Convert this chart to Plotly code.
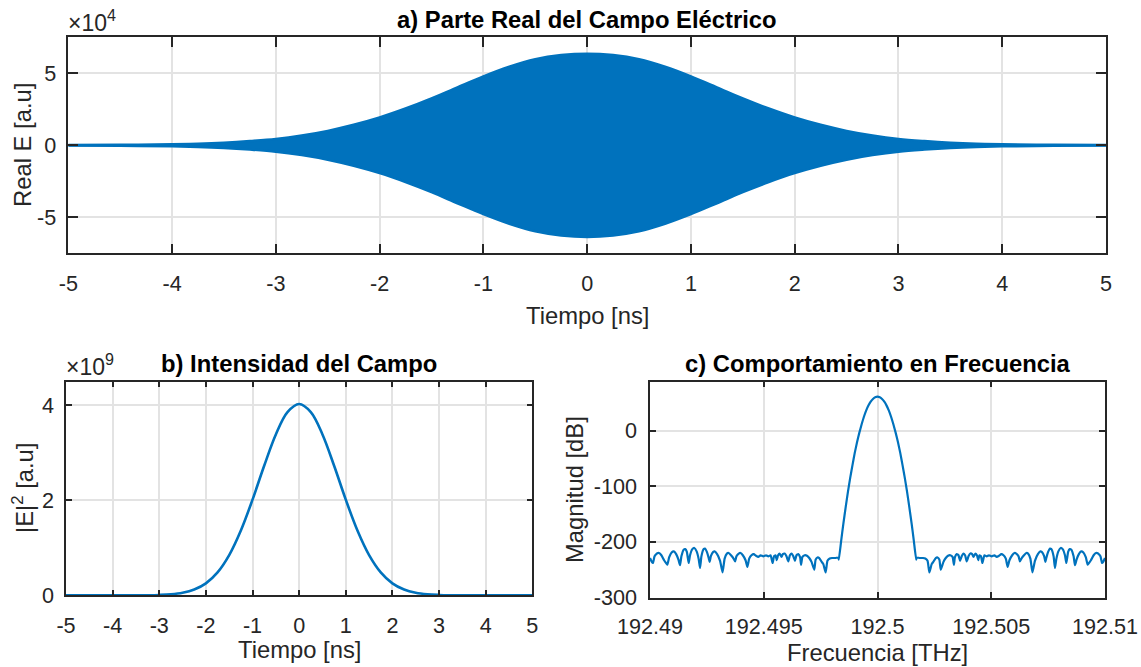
import plotly.graph_objects as go

# ---------------- data ----------------
# a) envelope of the real part of the field (x1e4 a.u.) vs time [ns]
t_env = [-5.0, -4.5, -4.0, -3.75, -3.5, -3.25, -3.0, -2.75, -2.5, -2.25, -2.0, -1.75, -1.5, -1.25, -1.0,
         -0.75, -0.5, -0.25, 0.0, 0.25, 0.5, 0.75, 1.0, 1.25, 1.5, 1.75, 2.0, 2.25, 2.5, 2.75, 3.0,
         3.25, 3.5, 3.75, 4.0, 4.5, 5.0]
env_e4 = [0.01, 0.03, 0.07, 0.11, 0.18, 0.29, 0.44, 0.68, 1.0, 1.42, 1.93, 2.55, 3.25, 4.02, 4.78,
          5.45, 5.97, 6.26, 6.36, 6.26, 5.97, 5.45, 4.78, 4.02, 3.25, 2.55, 1.93, 1.42, 1.0, 0.68, 0.44,
          0.29, 0.18, 0.11, 0.07, 0.03, 0.01]

# b) intensity |E|^2 (x1e9 a.u.) vs time [ns]
t_int = [-5.0, -4.5, -4.0, -3.5, -3.25, -3.0, -2.75, -2.5, -2.25, -2.0, -1.75, -1.5, -1.25, -1.0,
         -0.75, -0.5, -0.25, 0.0, 0.25, 0.5, 0.75, 1.0, 1.25, 1.5, 1.75, 2.0, 2.25, 2.5, 2.75, 3.0,
         3.25, 3.5, 4.0, 4.5, 5.0]
int_e9 = [0.0, 0.0, 0.0, 0.0008, 0.0026, 0.0079, 0.0213, 0.053, 0.121, 0.252, 0.483, 0.847, 1.365, 2.015,
          2.729, 3.389, 3.859, 4.03, 3.859, 3.389, 2.729, 2.015, 1.365, 0.847, 0.483, 0.252, 0.121, 0.053, 0.0213, 0.0079,
          0.0026, 0.0008, 0.0, 0.0, 0.0]

# c) spectrum magnitude [dB]; frequency as offset [GHz] from 192.49 THz
floor_left_off = [0.00, 0.08, 0.13, 0.20, 0.30, 0.40, 0.50, 0.62, 0.76, 0.84, 0.95, 1.05, 1.15, 1.25, 1.32, 1.38,
                  1.48, 1.55, 1.62, 1.70, 1.76, 1.86, 1.95, 2.05, 2.14, 2.20, 2.26, 2.36, 2.42, 2.50, 2.58, 2.62,
                  2.68, 2.78, 2.84, 2.95, 3.08, 3.19, 3.28, 3.38, 3.46, 3.56, 3.66, 3.74, 3.80, 3.90, 3.98, 4.08,
                  4.20, 4.28, 4.36, 4.46, 4.56, 4.66, 4.76, 4.86, 4.98, 5.10, 5.20, 5.30, 5.39, 5.45, 5.52, 5.57,
                  5.63, 5.70, 5.78, 5.84, 5.92, 6.00, 6.08, 6.15, 6.23, 6.30, 6.37, 6.44, 6.52, 6.60, 6.64, 6.70,
                  6.80, 6.90, 7.00, 7.10, 7.22, 7.28, 7.36, 7.44, 7.55, 7.62, 7.72, 7.80, 7.90, 8.00, 8.15, 8.28]
floor_left_db = [-229, -236, -238, -226, -221, -220, -224, -233, -241, -228, -219, -217, -222, -232, -242, -226,
                 -214, -213, -218, -238, -224, -213, -211, -217, -231, -247, -226, -213, -212, -218, -229, -236,
                 -225, -218, -217, -222, -234, -255, -230, -221, -220, -224, -229, -235, -226, -221, -220, -224,
                 -233, -245, -230, -224, -222, -225, -227, -224, -226, -224, -226, -224, -238, -226, -224, -233,
                 -224, -221, -227, -222, -221, -226, -235, -224, -221, -226, -234, -224, -222, -228, -241, -227,
                 -224, -225, -229, -236, -250, -232, -228, -229, -236, -240, -255, -234, -230, -229, -229, -228]

peak_off = [8.3, 8.4, 8.5, 8.6, 8.7, 8.8, 8.9, 9.0, 9.1, 9.2, 9.3, 9.4, 9.5, 9.6, 9.7, 9.8, 9.9, 10.0,
            10.1, 10.2, 10.3, 10.4, 10.5, 10.6, 10.7, 10.8, 10.9, 11.0, 11.1, 11.2, 11.3, 11.4, 11.5, 11.6, 11.7]
peak_db = [-232, -199, -167, -138, -110, -85, -62, -40, -21, -4, 11, 24.5, 36, 45, 52, 57, 60, 61,
           60, 57, 52, 45, 36, 24.5, 11, -4, -21, -40, -62, -85, -110, -138, -167, -199, -232]

floor_right_off = [11.72, 11.85, 12.00, 12.10, 12.20, 12.28, 12.38, 12.45, 12.56, 12.64, 12.72, 12.78, 12.90, 13.00,
                   13.10, 13.20, 13.30, 13.36, 13.40, 13.48, 13.56, 13.63, 13.70, 13.77, 13.85, 13.92, 14.00, 14.08,
                   14.16, 14.22, 14.30, 14.37, 14.43, 14.48, 14.55, 14.61, 14.70, 14.80, 14.90, 15.02, 15.14, 15.24,
                   15.34, 15.44, 15.54, 15.64, 15.72, 15.80, 15.92, 16.02, 16.10, 16.20, 16.26, 16.34, 16.44, 16.54,
                   16.62, 16.72, 16.81, 16.92, 17.05, 17.16, 17.22, 17.32, 17.38, 17.42, 17.50, 17.58, 17.64, 17.74,
                   17.80, 17.86, 17.95, 18.05, 18.14, 18.24, 18.30, 18.38, 18.45, 18.52, 18.62, 18.68, 18.75, 18.85,
                   18.95, 19.05, 19.16, 19.24, 19.38, 19.50, 19.60, 19.70, 19.80, 19.87, 19.92, 20.00]
floor_right_db = [-228, -229, -229, -230, -234, -255, -240, -236, -229, -228, -232, -250, -236, -229,
                  -225, -224, -227, -241, -228, -222, -224, -234, -226, -221, -224, -235, -226, -221,
                  -222, -227, -221, -224, -233, -224, -226, -238, -224, -226, -224, -226, -224, -227,
                  -225, -222, -224, -230, -245, -233, -224, -220, -221, -226, -235, -229, -224, -220,
                  -221, -230, -255, -234, -222, -217, -218, -225, -236, -229, -218, -212, -213, -226,
                  -247, -231, -217, -211, -213, -224, -238, -218, -213, -214, -226, -242, -232, -222,
                  -217, -219, -228, -241, -233, -224, -220, -221, -226, -238, -236, -229]

f_base_THz = 192.49
x_ticks_t = [-5, -4, -3, -2, -1, 0, 1, 2, 3, 4, 5]
x_tick_t_text = ["-5", "-4", "-3", "-2", "-1", "0", "1", "2", "3", "4", "5"]
y_ticks_a = [-5e4, 0, 5e4]
y_tick_a_text = ["-5", "0", "5"]
y_ticks_b = [0, 2e9, 4e9]
y_tick_b_text = ["0", "2", "4"]
x_ticks_c = [192.49, 192.495, 192.5, 192.505, 192.51]
x_tick_c_text = ["192.49", "192.495", "192.5", "192.505", "192.51"]
y_ticks_c = [-300, -200, -100, 0]
y_tick_c_text = ["-300", "-200", "-100", "0"]

# ---------------- figure ----------------
W, H = 1141, 667
BLUE = "#0072BD"
AX = "#262626"
GRID = "#E3E3E3"
FONT = "Liberation Sans, Arial, Helvetica, sans-serif"
TICK = 21.6
LAB = 23.8


def px_x(x):
    return x / W


def px_y(y):
    return 1 - y / H


fig = go.Figure()

env_abs = [v * 1e4 for v in env_e4]
fig.add_trace(go.Scatter(x=t_env, y=[-v for v in env_abs], mode="lines",
                         line=dict(color=BLUE, width=2.6, shape="spline"),
                         xaxis="x", yaxis="y", showlegend=False, hoverinfo="skip"))
fig.add_trace(go.Scatter(x=t_env, y=env_abs, mode="lines", fill="tonexty", fillcolor=BLUE,
                         line=dict(color=BLUE, width=2.6, shape="spline"),
                         xaxis="x", yaxis="y", showlegend=False, hoverinfo="skip"))

fig.add_trace(go.Scatter(x=t_int, y=[v * 1e9 for v in int_e9], mode="lines",
                         line=dict(color=BLUE, width=2.6, shape="spline"),
                         xaxis="x2", yaxis="y2", showlegend=False))

spec_off = floor_left_off + peak_off + floor_right_off
spec_db = floor_left_db + peak_db + floor_right_db
fig.add_trace(go.Scatter(x=[f_base_THz + o / 1000.0 for o in spec_off], y=spec_db, mode="lines",
                         line=dict(color=BLUE, width=2.2, shape="spline", smoothing=0.4),
                         xaxis="x3", yaxis="y3", showlegend=False))


def ax_style(ticklen, standoff):
    return dict(showline=True, linecolor=AX, linewidth=1.5, mirror="ticks",
                ticks="inside", ticklen=ticklen, tickwidth=1.5, tickcolor=AX,
                showgrid=True, gridcolor=GRID, gridwidth=1.5, zeroline=False,
                automargin=False, fixedrange=True, ticklabelstandoff=standoff,
                tickfont=dict(family=FONT, size=TICK, color=AX))


fig.update_layout(
    width=W, height=H, autosize=False,
    margin=dict(l=0, r=0, t=0, b=0, autoexpand=False),
    paper_bgcolor="white", plot_bgcolor="white",
    xaxis=dict(domain=[px_x(68.3), px_x(1106)], range=[-5, 5], anchor="y",
               tickmode="array", tickvals=x_ticks_t, ticktext=x_tick_t_text, **ax_style(10, 10)),
    yaxis=dict(domain=[px_y(253.3), px_y(37.3)], range=[-7.5e4, 7.5e4], anchor="x",
               tickmode="array", tickvals=y_ticks_a, ticktext=y_tick_a_text, **ax_style(10, 6)),
    xaxis2=dict(domain=[px_x(66), px_x(532.3)], range=[-5, 5], anchor="y2",
                tickmode="array", tickvals=x_ticks_t, ticktext=x_tick_t_text, **ax_style(6, 10)),
    yaxis2=dict(domain=[px_y(595.3), px_y(381.7)], range=[0, 4.5e9], anchor="x2",
                tickmode="array", tickvals=y_ticks_b, ticktext=y_tick_b_text, **ax_style(6, 6)),
    xaxis3=dict(domain=[px_x(650), px_x(1105)], range=[192.49, 192.51], anchor="y3",
                tickmode="array", tickvals=x_ticks_c, ticktext=x_tick_c_text, **ax_style(6, 9)),
    yaxis3=dict(domain=[px_y(597.5), px_y(381.7)], range=[-300, 88], anchor="x3",
                tickmode="array", tickvals=y_ticks_c, ticktext=y_tick_c_text, **ax_style(6, 7)),
)


def ann(text, x, y, size, bold=False, angle=0, xanchor="center", yanchor="middle", color=AX):
    fig.add_annotation(text=("<b>%s</b>" % text) if bold else text,
                       x=px_x(x), y=px_y(y), xref="paper", yref="paper",
                       showarrow=False, textangle=angle, xanchor=xanchor, yanchor=yanchor,
                       font=dict(family=FONT, size=size, color=color))


# titles
ann("a) Parte Real del Campo Eléctrico", 587, 19, LAB, bold=True, color="black")
ann("b) Intensidad del Campo", 299, 363, LAB, bold=True, color="black")
ann("c) Comportamiento en Frecuencia", 877.5, 363, LAB, bold=True, color="black")
# axis labels
ann("Tiempo [ns]", 587, 315, LAB)
ann("Tiempo [ns]", 299, 649, LAB)
ann("Frecuencia [THz]", 877.5, 652, LAB)
ann("Real E [a.u]", 23, 145, LAB, angle=-90)
ann("|E|<sup>2</sup> [a.u]", 23, 488, LAB, angle=-90)
ann("Magnitud [dB]", 574, 490, LAB, angle=-90)
# exponent labels
ann("×10<sup>4</sup>", 66, 21, 23, xanchor="left")
ann("×10<sup>9</sup>", 64, 365, 23, xanchor="left")

fig.write_html("out.html")
